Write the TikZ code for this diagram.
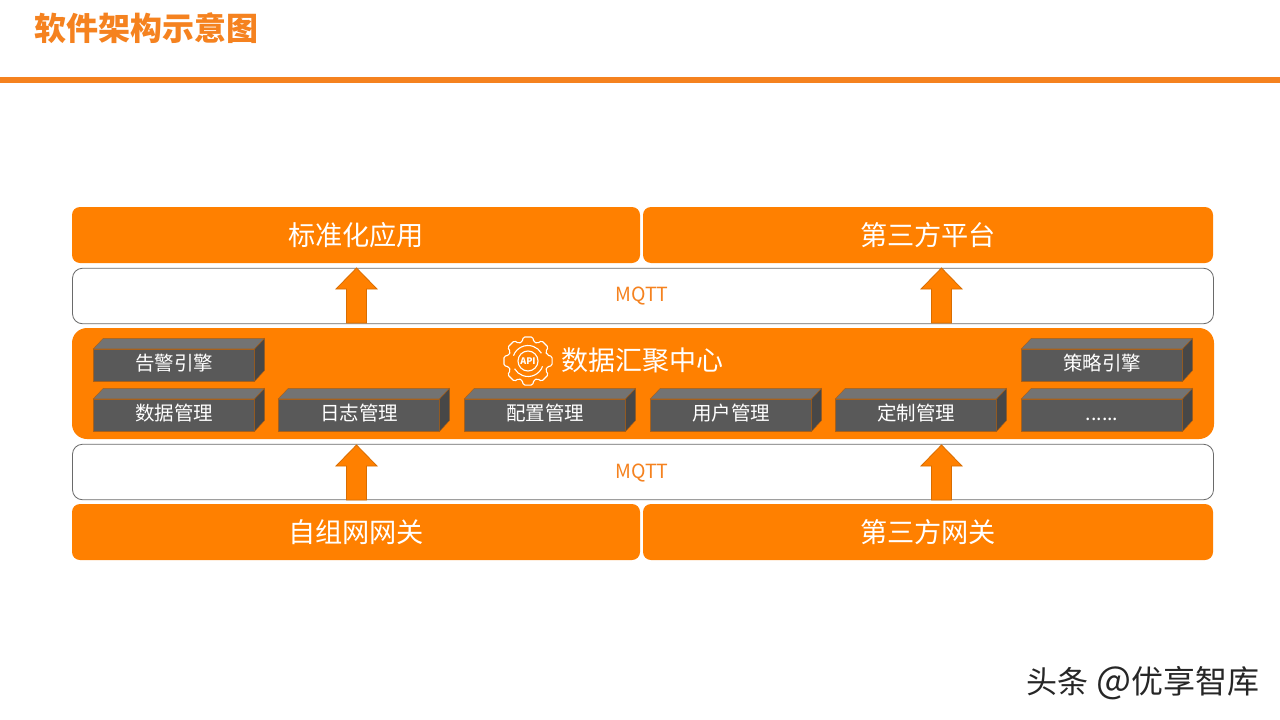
\documentclass[tikz,border=0pt]{standalone}
\usepackage{fontspec}
\setmainfont{Noto Sans CJK SC}
\definecolor{mainorange}{HTML}{FF8000}
\definecolor{titleorange}{HTML}{F5821F}
\definecolor{cubefront}{HTML}{595959}
\definecolor{cubetop}{HTML}{737373}
\definecolor{cubeside}{HTML}{474747}
\definecolor{cubeedge}{HTML}{A8601A}
\definecolor{bandedge}{HTML}{6A6A6A}
\newcommand{\moredots}{......}
\tikzset{
    orangebar/.style={fill=mainorange, rounded corners=8pt, text=white, inner sep=0pt,
        font=\fontsize{27.2}{30}\selectfont},
    mqttband/.style={draw=bandedge, fill=white, line width=0.8pt, rounded corners=10pt, inner sep=0pt,
        minimum width=1141pt, minimum height=55.5pt},
    mqttlabel/.style={text=titleorange, inner sep=0pt, font=\fontsize{19.5}{22}\selectfont},
    uparrow/.style={draw=mainorange!85!black, fill=mainorange, line width=0.8pt},
    cubeface/.style={fill=cubefront, draw=cubeedge, line width=0.4pt, text=white, inner sep=0pt,
        minimum width=161pt, minimum height=32pt, text height=15pt, text depth=4.5pt,
        font=\fontsize{19.5}{22}\selectfont},
}
\begin{document}
\begin{tikzpicture}[x=1pt, y=-1pt]
    \useasboundingbox (0,0) rectangle (1280,720);
    \fill[white] (0,0) rectangle (1280,720);

    % Title and rule
    \node[anchor=west, inner sep=0pt, text=titleorange, font=\fontsize{32}{34}\selectfont\bfseries] (title) at (34.5,28) {软件架构示意图};
    \fill[titleorange] (0,77) rectangle (1280,82.5);

    % Top and bottom bars
    \foreach \nm/\xx/\yy/\ww/\txt in {app/356/235/568/标准化应用, third/928/235/570/第三方平台,
        gateway/356/532/568/自组网网关, thirdgw/928/532/570/第三方网关} {
        \node[orangebar, minimum width=\ww pt, minimum height=56pt] (\nm) at (\xx,\yy) {\txt};
    }

    % MQTT bands
    \node[mqttband] (bandtop) at (643,296) {};
    \node[mqttband] (bandlow) at (643,472) {};
    \node[mqttlabel] (mqtttop) at (642,296) {MQTT};
    \node[mqttlabel] (mqttlow) at (642,473) {MQTT};

    % Arrows
    \foreach \nm/\xx/\yy in {arrowa/356.5/268, arrowb/941.5/268, arrowc/356.5/445, arrowd/941.5/445} {
        \coordinate (\nm) at (\xx,\yy);
        \filldraw[uparrow] (\nm) -- ++(20.5,21) -- ++(-10.5,0) -- ++(0,34) -- ++(-20,0) -- ++(0,-34) -- ++(-10.5,0) -- cycle;
    }

    % Data centre
    \node[fill=mainorange, rounded corners=15pt, minimum width=1142pt, minimum height=111pt, inner sep=0pt] (center) at (643,383.5) {};
    \node[anchor=west, inner sep=0pt, text=white, font=\fontsize{27}{30}\selectfont] (centertitle) at (561,360) {数据汇聚中心};

    % Gear icon
    \begin{scope}[shift={(528,361)}, draw=white, line width=1.1pt, line join=round]
        \draw[rounded corners=1.5pt] (-17:20)
            \foreach \a in {0,45,...,315} {
                -- (\a-17:20) -- (\a-11:24.5) -- (\a+11:24.5) -- (\a+17:20)
            } -- cycle;
        \draw (20:15.5) arc (20:150:15.5);
        \draw (200:15.5) arc (200:330:15.5);
        \node[draw=white, line width=1.1pt, circle, minimum size=20pt, inner sep=0pt, text=white,
            font=\fontsize{9}{9}\selectfont\bfseries] (apilabel) at (0,0) {API};
    \end{scope}

    % Module boxes
    \foreach \nm/\xx/\yy/\txt in {alarm/174/365/告警引擎, policy/1102/365/策略引擎,
        datamgr/174/415/数据管理, logmgr/359/415/日志管理, confmgr/545/415/配置管理,
        usermgr/731/415/用户管理, custmgr/916/415/定制管理, more/1102/415/\moredots} {
        \node[cubeface] (\nm) at (\xx,\yy) {\txt};
        \filldraw[fill=cubetop, draw=cubeedge, line width=0.4pt] (\nm.north west) -- ++(10,-10.5) -- ++(161,0) -- (\nm.north east) -- cycle;
        \filldraw[fill=cubeside, draw=cubeedge, line width=0.4pt] (\nm.south east) -- (\nm.north east) -- ++(10,-10.5) -- ++(0,32) -- cycle;
    }

    % Watermark
    \node[anchor=west, inner sep=0pt, text=black!85, font=\fontsize{31}{34}\selectfont] (mark) at (1026,683) {头条\hspace{8pt}{\fontsize{37}{34}\selectfont @}\fontsize{32}{34}\selectfont 优享智库};
\end{tikzpicture}
\end{document}
